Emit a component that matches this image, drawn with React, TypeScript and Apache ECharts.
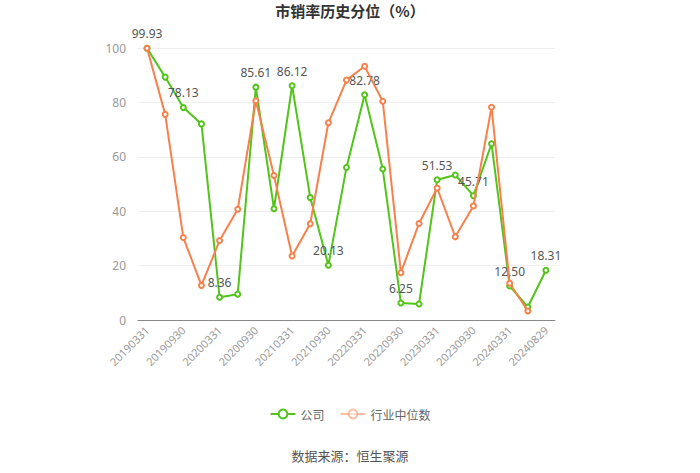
import React, { useEffect, useRef } from "react";
import * as echarts from "echarts";

const categories = [
  "20190331", "20190630", "20190930", "20191231",
  "20200331", "20200630", "20200930", "20201231",
  "20210331", "20210630", "20210930", "20211231",
  "20220331", "20220630", "20220930", "20221231",
  "20230331", "20230630", "20230930", "20231231",
  "20240331", "20240630", "20240829",
];

const companyValues = [
  99.93, 89.3, 78.13, 72.1, 8.36, 9.5, 85.61, 40.9, 86.12, 45.0, 20.13, 56.1,
  82.78, 55.5, 6.25, 5.9, 51.53, 53.3, 45.71, 64.8, 12.5, 4.8, 18.31,
];

const industryValues: (number | null)[] = [
  99.9, 75.6, 30.3, 12.7, 29.2, 40.7, 80.6, 53.1, 23.5, 35.4, 72.5, 88.2,
  93.3, 80.4, 17.4, 35.5, 48.5, 30.6, 41.9, 78.2, 13.5, 3.3, null,
];

const yTicks = { min: 0, max: 100, interval: 20 };

export default function App() {
  const ref = useRef<HTMLDivElement>(null);
  useEffect(() => {
    if (!ref.current) return;
    const chart = echarts.init(ref.current, undefined, { renderer: "svg" });
    const green = "#52c41a";
    const orange = "#f7814c";
    chart.setOption({
      animation: false,
      backgroundColor: "#ffffff",
      title: {
        text: "市销率历史分位（%）",
        left: "center",
        top: -2,
        textStyle: { fontSize: 15, fontWeight: "bold", color: "#333", fontFamily: "Noto Sans CJK SC" },
      },
      grid: { left: 138, right: 145, top: 48, bottom: 153 },
      legend: {
        bottom: 48,
        left: "center",
        itemWidth: 25,
        itemHeight: 11,
        itemGap: 15,
        textStyle: { color: "#666", fontSize: 12, fontFamily: "Noto Sans CJK SC" },
        data: [
          { name: "公司" },
          { name: "行业中位数", itemStyle: { opacity: 0.5 }, lineStyle: { opacity: 0.5 } },
        ],
      },
      graphic: [
        {
          type: "text",
          left: "center",
          top: 449,
          style: { text: "数据来源：恒生聚源", fill: "#555", fontSize: 13, fontFamily: "Noto Sans CJK SC" },
        },
      ],
      xAxis: {
        type: "category",
        data: categories,
        boundaryGap: true,
        axisLine: { lineStyle: { color: "#888" } },
        axisTick: { alignWithLabel: true, interval: 1, lineStyle: { color: "#888" } },
        axisLabel: {
          interval: 1,
          rotate: 45,
          color: "#999",
          fontSize: 11,
          fontFamily: "Noto Sans",
        },
      },
      yAxis: {
        type: "value",
        min: yTicks.min,
        max: yTicks.max,
        interval: yTicks.interval,
        axisLine: { show: false },
        axisTick: { show: false },
        axisLabel: { color: "#999", fontSize: 12, margin: 12, fontFamily: "Noto Sans" },
        splitLine: { lineStyle: { color: "#eeeeee" } },
      },
      series: [
        {
          name: "公司",
          type: "line",
          data: companyValues,
          color: green,
          symbol: "emptyCircle",
          symbolSize: 5,
          lineStyle: { width: 2, color: green },
          itemStyle: { color: green },
          label: {
            show: true,
            position: "top",
            color: "#555",
            fontSize: 12,
            fontFamily: "Noto Sans",
            formatter: (p: any) => (p.dataIndex % 2 === 0 ? p.value.toFixed(2) : ""),
          },
          z: 2,
        },
        {
          name: "行业中位数",
          type: "line",
          data: industryValues,
          color: orange,
          symbol: "emptyCircle",
          symbolSize: 5,
          lineStyle: { width: 2, color: orange },
          itemStyle: { color: orange },
          z: 3,
        },
      ],
    });
    return () => chart.dispose();
  }, []);
  return (
    <div
      ref={ref}
      style={{ position: "absolute", left: 0, top: 0, width: 700, height: 473 }}
    />
  );
}
